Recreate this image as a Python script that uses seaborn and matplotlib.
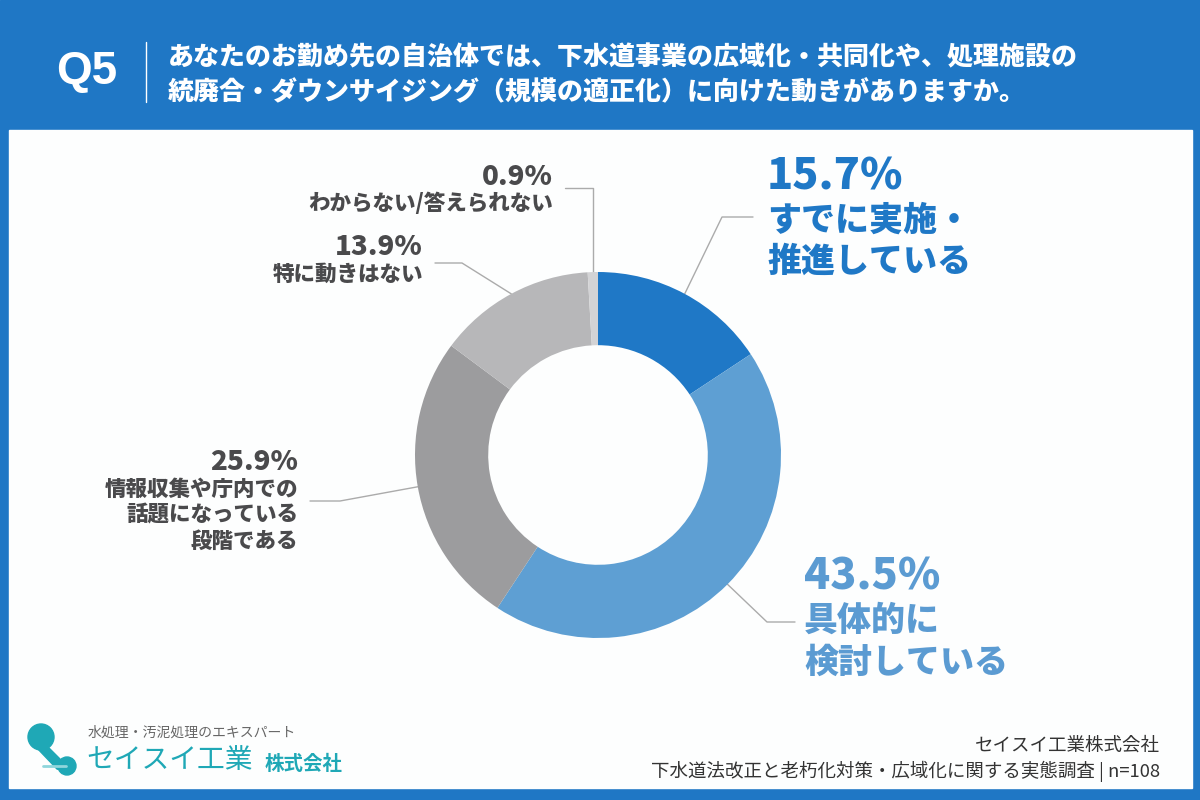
import numpy as np
import matplotlib
matplotlib.use("Agg")
import matplotlib.pyplot as plt
from matplotlib.patches import Rectangle, Circle, Polygon
import seaborn as sns

sns.set_theme(style="white")
plt.rcParams['font.family'] = ['Noto Sans CJK JP', 'DejaVu Sans']

# ---- data ----
categories = ["すでに実施・\n推進している", "具体的に\n検討している",
              "情報収集や庁内での\n話題になっている\n段階である",
              "特に動きはない", "わからない/答えられない"]
values = [15.7, 43.5, 25.9, 13.9, 0.9]
pct_labels = ["15.7%", "43.5%", "25.9%", "13.9%", "0.9%"]
slice_colors = ["#1f78c6", "#5e9fd3", "#9c9c9e", "#b7b7b9", "#d3d3d5"]
question = ["あなたのお勤め先の自治体では、下水道事業の広域化・共同化や、処理施設の",
            "統廃合・ダウンサイジング（規模の適正化）に向けた動きがありますか。"]
qnum = "Q5"
source = ["セイスイ工業株式会社", "下水道法改正と老朽化対策・広域化に関する実態調査 | n=108"]

BLUE = "#1f77c5"
TEAL = "#1fa8b6"

fig = plt.figure(figsize=(12, 8), dpi=100)
bg = fig.add_axes([0, 0, 1, 1])
bg.set_xlim(0, 1200)
bg.set_ylim(800, 0)
bg.axis("off")

# frame
bg.add_patch(Rectangle((0, 0), 1200, 800, color=BLUE, zorder=0))
bg.add_patch(Rectangle((9, 130), 1183, 658, color="#fdfefe", zorder=1))

# header
bg.text(87, 72, qnum, color="white", fontsize=33, fontweight="bold",
        ha="center", va="center", family=["Liberation Sans", "DejaVu Sans"], zorder=3)
bg.plot([146, 146], [42, 102], color="white", lw=1.0, zorder=3)
bg.text(168, 57, question[0], color="white", fontsize=18.7, fontweight="heavy",
        ha="left", va="center", zorder=3)
bg.text(168, 92, question[1], color="white", fontsize=18.7, fontweight="heavy",
        ha="left", va="center", zorder=3)

# donut
CX, CY, R = 598, 455, 183
ax = fig.add_axes([(CX - R) / 1200, (800 - CY - R) / 800, 2 * R / 1200, 2 * R / 800])
ax.pie(values, colors=slice_colors, startangle=90, counterclock=False, radius=1.0,
       wedgeprops=dict(width=0.40, edgecolor="none", linewidth=0))
ax.set_xlim(-1, 1)
ax.set_ylim(-1, 1)
ax.axis("off")

# leader lines from wedge mid-angles
total = sum(values)
cum = np.cumsum([0] + values[:-1])
mids = [90 - 360 * (c + v / 2) / total for c, v in zip(cum, values)]
starts = [(CX + R * np.cos(np.radians(m)), CY - R * np.sin(np.radians(m))) for m in mids]

elbows = [(722, 217), (767, 622), (340, 501), (462, 263), (None, 188)]
ends = [753, 795, 310, 435, 565]
for (sx, sy), (ex, ey), xe in zip(starts, elbows, ends):
    if ex is None:
        ex = sx
    bg.plot([sx, ex, xe], [sy, ey, ey], color="#ababab", lw=1.0, zorder=2)

# big labels (blue)
big_cfg = [(767, [177, 220, 261], "#1f78c6"), (804, [577, 620, 662], "#5b9bd2")]
for i, (x, ys, col) in enumerate(big_cfg):
    bg.text(x, ys[0], pct_labels[i], color=col, fontsize=31, fontweight="heavy",
            ha="left", va="center", zorder=3)
    for j, line in enumerate(categories[i].split("\n")):
        bg.text(x, ys[j + 1], line, color=col, fontsize=24.5, fontweight="heavy",
                ha="left", va="center", zorder=3)

# gray labels
GRAY = "#4a4a4c"
small_cfg = {2: (298, [462, 489, 515, 541]), 3: (423, [247, 274]), 4: (553, [177, 203])}
for i, (x, ys) in small_cfg.items():
    bg.text(x, ys[0], pct_labels[i], color=GRAY, fontsize=20, fontweight="heavy",
            ha="right", va="center", zorder=3)
    for j, line in enumerate(categories[i].split("\n")):
        bg.text(x, ys[j + 1], line, color=GRAY, fontsize=15.5, fontweight="heavy",
                ha="right", va="center", zorder=3)

# logo
bg.add_patch(Circle((41, 737), 13, color=TEAL, zorder=3))
bg.add_patch(Circle((67, 766), 9, color=TEAL, zorder=3))
bg.add_patch(Polygon([(36, 747), (48, 747), (60, 759), (66, 772), (57, 769)],
                     closed=True, color=TEAL, zorder=3))
bg.plot([43, 66], [766, 766], color="#8fd6dc", lw=2, zorder=3)
bg.text(88, 733, "水処理・汚泥処理のエキスパート", color="#666666", fontsize=10,
        ha="left", va="center", zorder=3)
bg.text(86, 760, "セイスイ工業", color=TEAL, fontsize=20, ha="left", va="center", zorder=3)
bg.text(265, 764, "株式会社", color=TEAL, fontsize=14, fontweight="bold",
        ha="left", va="center", zorder=3)

# source
bg.text(1160, 746, source[0], color="#333333", fontsize=13.3, ha="right", va="center", zorder=3)
bg.text(1160, 771, source[1], color="#333333", fontsize=13.3, ha="right", va="center", zorder=3)

fig.savefig("out.png", dpi=100)
